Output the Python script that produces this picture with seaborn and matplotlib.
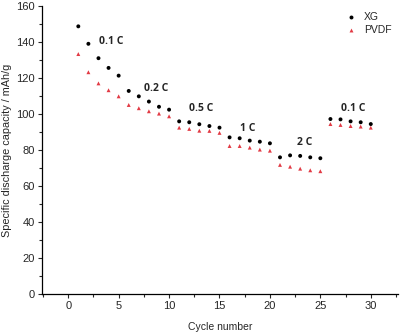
import numpy as np
import pandas as pd
import matplotlib
matplotlib.use("Agg")
import matplotlib.pyplot as plt
import seaborn as sns
from matplotlib.ticker import MultipleLocator

sns.set_theme(style="ticks")
plt.rcParams["font.family"] = ["Liberation Sans", "DejaVu Sans"]

cycles = list(range(1, 31))
xg = [148.7, 139.0, 131.0, 125.6, 121.3, 112.8, 109.8, 106.9, 104.0, 102.4,
      95.9, 95.4, 94.3, 93.3, 92.4, 87.0, 86.5, 85.2, 84.6, 83.7,
      75.9, 77.0, 76.7, 75.9, 75.4, 97.2, 97.0, 95.9, 95.4, 94.4]
pvdf = [133.3, 123.2, 117.0, 113.2, 109.8, 105.0, 103.2, 101.5, 100.2, 98.7,
        92.4, 91.7, 90.7, 90.6, 89.5, 82.2, 82.2, 81.3, 80.2, 79.6,
        71.7, 70.7, 69.6, 68.7, 68.2, 94.4, 93.9, 93.3, 93.0, 92.4]
rate_labels = ["0.1 C", "0.2 C", "0.5 C", "1 C", "2 C", "0.1 C"]
label_x = [4.3, 8.7, 13.2, 17.8, 23.4, 28.3]
label_y = [140.5, 114.4, 103.3, 92.0, 84.0, 103.3]

df = pd.DataFrame({
    "cycle": cycles * 2,
    "capacity": xg + pvdf,
    "binder": ["XG"] * 30 + ["PVDF"] * 30,
})

fig = plt.figure(figsize=(4, 3.34), dpi=100)
ax = fig.add_axes([0.105, 0.12, 0.89, 0.862])

sns.scatterplot(data=df, x="cycle", y="capacity", hue="binder", style="binder",
                palette={"XG": "black", "PVDF": "#e23a44"},
                markers={"XG": "o", "PVDF": "^"}, s=8, linewidth=0, ax=ax)

for t, x, y in zip(rate_labels, label_x, label_y):
    ax.text(x, y, t, ha="center", va="center", fontsize=7.5, fontweight="bold",
            family=["Open Sans", "DejaVu Sans"])

ax.set_xlim(-2.6, 32.7)
ax.set_ylim(0, 160)
ax.xaxis.set_major_locator(MultipleLocator(5))
ax.xaxis.set_minor_locator(MultipleLocator(2.5))
ax.yaxis.set_major_locator(MultipleLocator(20))
ax.yaxis.set_minor_locator(MultipleLocator(10))
ax.tick_params(axis="both", which="major", labelsize=8, length=3, width=0.8, pad=2)
ax.tick_params(axis="both", which="minor", length=2, width=0.8)
for side in ["top", "right"]:
    ax.spines[side].set_visible(False)
for side in ["left", "bottom"]:
    ax.spines[side].set_linewidth(0.9)
    ax.spines[side].set_color("black")

ax.set_xlabel("Cycle number", fontsize=7.5, labelpad=8)
ax.set_ylabel("Specific discharge capacity / mAh/g", fontsize=7.8, labelpad=3)

leg = ax.legend(loc="upper right", frameon=False, fontsize=7.5, title=None,
                handletextpad=0.3, borderaxespad=0.2, labelspacing=0.3,
                bbox_to_anchor=(1.0, 1.0))

fig.savefig("out.png", dpi=100)
